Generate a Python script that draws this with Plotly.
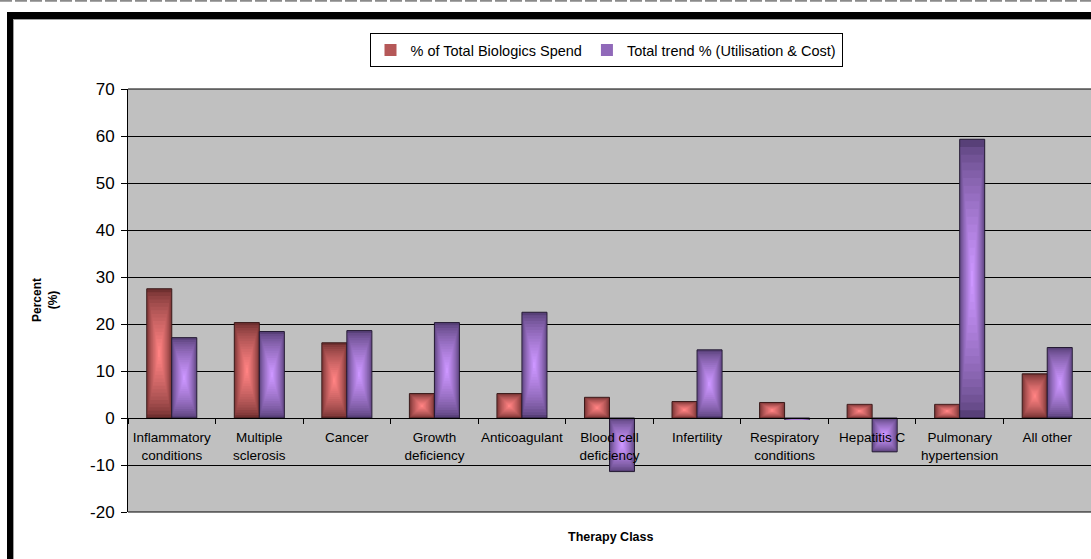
import plotly.graph_objects as go

# ---- data -------------------------------------------------------------
categories = [
    "Inflammatory conditions", "Multiple sclerosis", "Cancer",
    "Growth deficiency", "Anticoagulant", "Blood cell deficiency",
    "Infertility", "Respiratory conditions", "Hepatitis C",
    "Pulmonary hypertension", "All other",
]
tick_labels = [
    "Inflammatory<br>conditions", "Multiple<br>sclerosis", "Cancer",
    "Growth<br>deficiency", "Anticoagulant", "Blood cell<br>deficiency",
    "Infertility", "Respiratory<br>conditions", "Hepatitis C",
    "Pulmonary<br>hypertension", "All other",
]
spend_share = [27.5, 20.3, 16.0, 5.2, 5.2, 4.4, 3.5, 3.3, 2.9, 2.9, 9.4]
total_trend = [17.1, 18.4, 18.6, 20.3, 22.5, -11.4, 14.5, -0.3, -7.2, 59.3, 15.0]
series_names = ["% of Total Biologics Spend", "Total trend % (Utilisation & Cost)"]
y_ticks = list(range(-20, 71, 10))
y_tick_text = [str(v) for v in y_ticks]

# ---- page geometry ----------------------------------------------------
W, H = 1091, 559
ML, MR, MT, MB = 128, 0, 89, 47
PW, PH = W - ML - MR, H - MT - MB
FONT = "Liberation Sans, Arial, sans-serif"


def px_x(p):
    """Horizontal pixel -> paper coordinate."""
    return (p - ML) / PW


def px_y(p):
    """Vertical pixel (from top) -> paper coordinate."""
    return (H - MB - p) / PH


def mix(c1, c2, t):
    return "rgb(%d,%d,%d)" % tuple(round(a + (b - a) * t) for a, b in zip(c1, c2))


BAR_W = 1 / 3.5  # gap width 150 %
LAYERS = 18

fig = go.Figure()


def add_series(values, name, dark, light, edge, side):
    # nested rectangles shrinking toward the bar centre give a
    # "from centre" gradient: dark rim, light core
    for k in range(LAYERS):
        s = 1 - k / LAYERS
        t = (k / (LAYERS - 1)) ** 0.7
        w = BAR_W * s
        fig.add_trace(go.Bar(
            x=categories,
            y=[v * s for v in values],
            base=[v * (1 - s) / 2 for v in values],
            width=w,
            offset=side * BAR_W / 2 - w / 2,
            name=name,
            legendgroup=name,
            showlegend=(k == 6),
            marker=dict(color=mix(dark, light, t),
                        line=dict(width=1 if k == 0 else 0, color=edge)),
            hoverinfo="skip",
        ))


add_series(spend_share, series_names[0], (112, 48, 48), (255, 130, 130), "#3a1a1a", -1)
add_series(total_trend, series_names[1], (88, 64, 120), (204, 150, 255), "#241a33", 1)

# ---- frame decorations -------------------------------------------------
shapes = [
    # dashed rule along the very top
    dict(type="line", xref="paper", yref="paper",
         x0=px_x(0), x1=px_x(W), y0=px_y(0.8), y1=px_y(0.8),
         line=dict(color="#8a8a8a", width=2, dash="12px,3px")),
    # heavy black frame (top and left)
    dict(type="rect", xref="paper", yref="paper",
         x0=px_x(7), x1=px_x(W + 5), y0=px_y(19), y1=px_y(12),
         fillcolor="black", line=dict(width=0)),
    dict(type="rect", xref="paper", yref="paper",
         x0=px_x(7), x1=px_x(13), y0=px_y(H + 5), y1=px_y(12),
         fillcolor="black", line=dict(width=0)),
    # thin grey inner edge of the frame
    dict(type="line", xref="paper", yref="paper",
         x0=px_x(13), x1=px_x(W + 5), y0=px_y(19.5), y1=px_y(19.5),
         line=dict(color="#a0a0a0", width=1)),
    dict(type="line", xref="paper", yref="paper",
         x0=px_x(13.5), x1=px_x(13.5), y0=px_y(19), y1=px_y(H + 5),
         line=dict(color="#a0a0a0", width=1)),
    # plot area top / bottom edges
    dict(type="line", xref="paper", yref="paper", x0=0, x1=1, y0=1, y1=1,
         line=dict(color="black", width=1)),
    dict(type="line", xref="paper", yref="paper", x0=0, x1=1, y0=0, y1=0,
         line=dict(color="black", width=1)),
]

annotations = [
    dict(text="<b>Percent<br>(%)</b>", xref="paper", yref="paper",
         x=px_x(45), y=px_y(300), textangle=-90, showarrow=False,
         xanchor="center", yanchor="middle", align="center",
         font=dict(family=FONT, size=12, color="black")),
    dict(text="<b>Therapy Class</b>", xref="paper", yref="paper",
         x=px_x(611), y=px_y(537), showarrow=False,
         xanchor="center", yanchor="middle",
         font=dict(family=FONT, size=12.5, color="black")),
]

fig.update_layout(
    width=W, height=H,
    margin=dict(l=ML, r=MR, t=MT, b=MB, pad=0),
    paper_bgcolor="white",
    plot_bgcolor="#c0c0c0",
    barmode="overlay",
    font=dict(family=FONT, color="black"),
    shapes=shapes,
    annotations=annotations,
    legend=dict(
        orientation="h",
        x=px_x(606), xanchor="center",
        y=px_y(33), yanchor="top",
        bgcolor="white", bordercolor="black", borderwidth=1,
        font=dict(family=FONT, size=14.5, color="black"),
        itemwidth=30,
        traceorder="normal",
    ),
    xaxis=dict(
        type="category",
        categoryorder="array", categoryarray=categories,
        tickvals=categories, ticktext=tick_labels,
        range=[-0.5, len(categories) - 0.5],
        tickson="boundaries", tickangle=0,
        ticks="outside", ticklen=5, tickcolor="black", tickwidth=1,
        showgrid=False, zeroline=False,
        showline=True, linecolor="black", linewidth=1,
        anchor="free", position=20 / 90,
        ticklabelstandoff=7,
        tickfont=dict(family=FONT, size=13.5, color="black"),
    ),
    yaxis=dict(
        range=[-20, 70],
        tickvals=y_ticks, ticktext=y_tick_text,
        ticks="outside", ticklen=6, tickcolor="black", tickwidth=1,
        showgrid=True, gridcolor="black", gridwidth=1,
        zeroline=True, zerolinecolor="black", zerolinewidth=1,
        showline=True, linecolor="black", linewidth=1,
        ticklabelstandoff=3,
        tickfont=dict(family=FONT, size=17, color="black"),
    ),
)

fig.write_html("out.html")
